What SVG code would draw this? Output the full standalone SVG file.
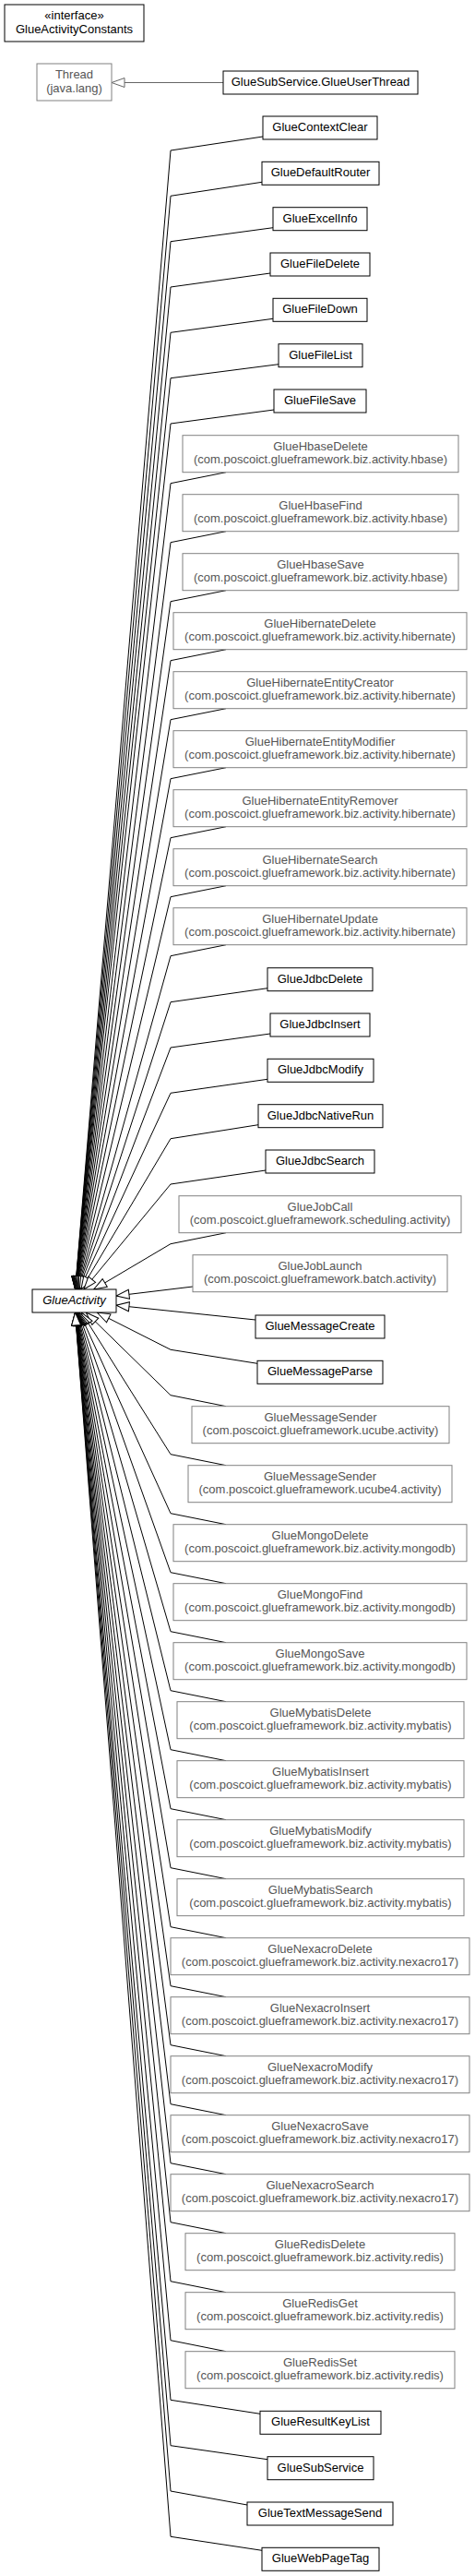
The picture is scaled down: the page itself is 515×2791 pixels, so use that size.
<svg xmlns="http://www.w3.org/2000/svg" width="515" height="2791" viewBox="0 0 515 2791">
<style>
text{font-family:"Liberation Sans",Arial,sans-serif;font-size:13px;text-anchor:middle}
.b rect{fill:#fff;stroke:#000;stroke-width:1}
.b text{fill:#000}
.g rect{fill:#fff;stroke:#808080;stroke-width:1}
.g text{fill:#555}
.e polyline{fill:none;stroke:#000;stroke-width:1;marker-end:url(#tri)}
</style>
<defs>
<marker id="tri" viewBox="0 0 14 10" refX="14" refY="5" markerWidth="14" markerHeight="10" markerUnits="userSpaceOnUse" orient="auto" overflow="visible"><path d="M0,0 L14,5 L0,10 Z" fill="#fff" stroke="#000" stroke-width="1"/></marker>
<marker id="trig" viewBox="0 0 14 10" refX="14" refY="5" markerWidth="14" markerHeight="10" markerUnits="userSpaceOnUse" orient="auto" overflow="visible"><path d="M0,0 L14,5 L0,10 Z" fill="#fff" stroke="#666" stroke-width="1"/></marker>
</defs>
<rect width="515" height="2791" fill="#fff"/>
<g id="edges" class="e">
<polyline points="242,89.5 121,89.5" style="stroke:#666;marker-end:url(#trig)"/>
<polyline points="285,148 185,163 81.55,1397"/>
<polyline points="284,197.3 185,212.3 81.59,1397"/>
<polyline points="296,246.7 185,261.7 81.64,1397"/>
<polyline points="293,296 185,311 81.69,1397"/>
<polyline points="296,345.3 185,360.3 81.75,1397"/>
<polyline points="302,394.7 185,409.7 81.81,1397"/>
<polyline points="297,444 185,459 81.87,1397"/>
<polyline points="245,511.7 185,523.7 81.97,1397"/>
<polyline points="245,575.7 185,587.7 82.09,1397"/>
<polyline points="245,639.7 185,651.7 82.22,1397"/>
<polyline points="245,703.7 185,715.7 82.38,1397"/>
<polyline points="245,767.7 185,779.7 82.57,1397"/>
<polyline points="245,831.7 185,843.7 82.81,1397"/>
<polyline points="245,895.7 185,907.7 83.10,1397"/>
<polyline points="245,959.7 185,971.7 83.48,1397"/>
<polyline points="245,1023.7 185,1035.7 83.99,1397"/>
<polyline points="290,1070.7 185,1085.7 84.53,1397"/>
<polyline points="293,1120 185,1135 85.26,1397"/>
<polyline points="290,1169.3 185,1184.3 86.30,1397"/>
<polyline points="280,1218.7 185,1233.7 87.93,1397"/>
<polyline points="288,1268 185,1283 90.83,1397"/>
<polyline points="245,1335.7 185,1347.7 101.64,1397"/>
<polyline points="209,1394 126,1404"/>
<polyline points="277,1430 126,1414.25"/>
<polyline points="279,1477.3 185,1462.3 105.24,1422"/>
<polyline points="245,1523.7 185,1511.7 93.28,1422"/>
<polyline points="245,1587.7 185,1575.7 88.36,1422"/>
<polyline points="245,1651.7 185,1639.7 86.17,1422"/>
<polyline points="245,1715.7 185,1703.7 84.94,1422"/>
<polyline points="245,1779.7 185,1767.7 84.15,1422"/>
<polyline points="245,1843.7 185,1831.7 83.59,1422"/>
<polyline points="245,1907.7 185,1895.7 83.19,1422"/>
<polyline points="245,1971.7 185,1959.7 82.87,1422"/>
<polyline points="245,2035.7 185,2023.7 82.63,1422"/>
<polyline points="245,2099.7 185,2087.7 82.43,1422"/>
<polyline points="245,2163.7 185,2151.7 82.26,1422"/>
<polyline points="245,2227.7 185,2215.7 82.12,1422"/>
<polyline points="245,2291.7 185,2279.7 82.00,1422"/>
<polyline points="245,2355.7 185,2343.7 81.90,1422"/>
<polyline points="245,2419.7 185,2407.7 81.81,1422"/>
<polyline points="245,2483.7 185,2471.7 81.73,1422"/>
<polyline points="245,2547.7 185,2535.7 81.66,1422"/>
<polyline points="282,2615.3 185,2600.3 81.60,1422"/>
<polyline points="290,2664.7 185,2649.7 81.55,1422"/>
<polyline points="268,2714 185,2699 81.51,1422"/>
<polyline points="284,2763.3 185,2748.3 81.48,1422"/>
</g>
<g id="GlueActivityConstants" class="b"><rect x="5" y="5" width="151" height="40"/><text x="80.5" y="20.5">«interface»</text><text x="80.5" y="35.5">GlueActivityConstants</text></g>
<g id="Thread" class="g"><rect x="40" y="69" width="81" height="40"/><text x="80.5" y="85">Thread</text><text x="80.5" y="100">(java.lang)</text></g>
<g id="GlueUserThread" class="b"><rect x="242" y="77" width="211" height="25"/><text x="347.5" y="93">GlueSubService.GlueUserThread</text></g>
<g id="GlueActivity" class="b"><rect x="35" y="1397" width="91" height="25"/><text x="80.5" y="1413" font-style="italic">GlueActivity</text></g>
<g id="GlueContextClear" class="b"><rect x="285" y="126" width="124" height="25"/><text x="347" y="142">GlueContextClear</text></g>
<g id="GlueDefaultRouter" class="b"><rect x="284" y="175.3" width="127" height="25"/><text x="347.5" y="191.3">GlueDefaultRouter</text></g>
<g id="GlueExcelInfo" class="b"><rect x="296" y="224.7" width="102" height="25"/><text x="347" y="240.7">GlueExcelInfo</text></g>
<g id="GlueFileDelete" class="b"><rect x="293" y="274" width="108" height="25"/><text x="347" y="290">GlueFileDelete</text></g>
<g id="GlueFileDown" class="b"><rect x="296" y="323.3" width="102" height="25"/><text x="347" y="339.3">GlueFileDown</text></g>
<g id="GlueFileList" class="b"><rect x="302" y="372.7" width="91" height="25"/><text x="347.5" y="388.7">GlueFileList</text></g>
<g id="GlueFileSave" class="b"><rect x="297" y="422" width="100" height="25"/><text x="347" y="438">GlueFileSave</text></g>
<g id="GlueHbaseDelete" class="g"><rect x="198" y="471.7" width="299" height="40"/><text x="347.5" y="487.7">GlueHbaseDelete</text><text x="347.5" y="502.2">(com.poscoict.glueframework.biz.activity.hbase)</text></g>
<g id="GlueHbaseFind" class="g"><rect x="198" y="535.7" width="299" height="40"/><text x="347.5" y="551.7">GlueHbaseFind</text><text x="347.5" y="566.2">(com.poscoict.glueframework.biz.activity.hbase)</text></g>
<g id="GlueHbaseSave" class="g"><rect x="198" y="599.7" width="299" height="40"/><text x="347.5" y="615.7">GlueHbaseSave</text><text x="347.5" y="630.2">(com.poscoict.glueframework.biz.activity.hbase)</text></g>
<g id="GlueHibernateDelete" class="g"><rect x="188" y="663.7" width="318" height="40"/><text x="347" y="679.7">GlueHibernateDelete</text><text x="347" y="694.2">(com.poscoict.glueframework.biz.activity.hibernate)</text></g>
<g id="GlueHibernateEntityCreator" class="g"><rect x="188" y="727.7" width="318" height="40"/><text x="347" y="743.7">GlueHibernateEntityCreator</text><text x="347" y="758.2">(com.poscoict.glueframework.biz.activity.hibernate)</text></g>
<g id="GlueHibernateEntityModifier" class="g"><rect x="188" y="791.7" width="318" height="40"/><text x="347" y="807.7">GlueHibernateEntityModifier</text><text x="347" y="822.2">(com.poscoict.glueframework.biz.activity.hibernate)</text></g>
<g id="GlueHibernateEntityRemover" class="g"><rect x="188" y="855.7" width="318" height="40"/><text x="347" y="871.7">GlueHibernateEntityRemover</text><text x="347" y="886.2">(com.poscoict.glueframework.biz.activity.hibernate)</text></g>
<g id="GlueHibernateSearch" class="g"><rect x="188" y="919.7" width="318" height="40"/><text x="347" y="935.7">GlueHibernateSearch</text><text x="347" y="950.2">(com.poscoict.glueframework.biz.activity.hibernate)</text></g>
<g id="GlueHibernateUpdate" class="g"><rect x="188" y="983.7" width="318" height="40"/><text x="347" y="999.7">GlueHibernateUpdate</text><text x="347" y="1014.2">(com.poscoict.glueframework.biz.activity.hibernate)</text></g>
<g id="GlueJdbcDelete" class="b"><rect x="290" y="1048.7" width="114" height="25"/><text x="347" y="1064.7">GlueJdbcDelete</text></g>
<g id="GlueJdbcInsert" class="b"><rect x="293" y="1098" width="108" height="25"/><text x="347" y="1114">GlueJdbcInsert</text></g>
<g id="GlueJdbcModify" class="b"><rect x="290" y="1147.3" width="115" height="25"/><text x="347.5" y="1163.3">GlueJdbcModify</text></g>
<g id="GlueJdbcNativeRun" class="b"><rect x="280" y="1196.7" width="135" height="25"/><text x="347.5" y="1212.7">GlueJdbcNativeRun</text></g>
<g id="GlueJdbcSearch" class="b"><rect x="288" y="1246" width="118" height="25"/><text x="347" y="1262">GlueJdbcSearch</text></g>
<g id="GlueJobCall" class="g"><rect x="194" y="1295.7" width="306" height="40"/><text x="347" y="1311.7">GlueJobCall</text><text x="347" y="1326.2">(com.poscoict.glueframework.scheduling.activity)</text></g>
<g id="GlueJobLaunch" class="g"><rect x="209" y="1359.7" width="276" height="40"/><text x="347" y="1375.7">GlueJobLaunch</text><text x="347" y="1390.2">(com.poscoict.glueframework.batch.activity)</text></g>
<g id="GlueMessageCreate" class="b"><rect x="277" y="1425" width="140" height="25"/><text x="347" y="1441">GlueMessageCreate</text></g>
<g id="GlueMessageParse" class="b"><rect x="279" y="1474.3" width="136" height="25"/><text x="347" y="1490.3">GlueMessageParse</text></g>
<g id="GlueMessageSender_ucube" class="g"><rect x="208" y="1523.7" width="279" height="40"/><text x="347.5" y="1539.7">GlueMessageSender</text><text x="347.5" y="1554.2">(com.poscoict.glueframework.ucube.activity)</text></g>
<g id="GlueMessageSender_ucube4" class="g"><rect x="204" y="1587.7" width="286" height="40"/><text x="347" y="1603.7">GlueMessageSender</text><text x="347" y="1618.2">(com.poscoict.glueframework.ucube4.activity)</text></g>
<g id="GlueMongoDelete" class="g"><rect x="188" y="1651.7" width="318" height="40"/><text x="347" y="1667.7">GlueMongoDelete</text><text x="347" y="1682.2">(com.poscoict.glueframework.biz.activity.mongodb)</text></g>
<g id="GlueMongoFind" class="g"><rect x="188" y="1715.7" width="318" height="40"/><text x="347" y="1731.7">GlueMongoFind</text><text x="347" y="1746.2">(com.poscoict.glueframework.biz.activity.mongodb)</text></g>
<g id="GlueMongoSave" class="g"><rect x="188" y="1779.7" width="318" height="40"/><text x="347" y="1795.7">GlueMongoSave</text><text x="347" y="1810.2">(com.poscoict.glueframework.biz.activity.mongodb)</text></g>
<g id="GlueMybatisDelete" class="g"><rect x="192" y="1843.7" width="311" height="40"/><text x="347.5" y="1859.7">GlueMybatisDelete</text><text x="347.5" y="1874.2">(com.poscoict.glueframework.biz.activity.mybatis)</text></g>
<g id="GlueMybatisInsert" class="g"><rect x="192" y="1907.7" width="311" height="40"/><text x="347.5" y="1923.7">GlueMybatisInsert</text><text x="347.5" y="1938.2">(com.poscoict.glueframework.biz.activity.mybatis)</text></g>
<g id="GlueMybatisModify" class="g"><rect x="192" y="1971.7" width="311" height="40"/><text x="347.5" y="1987.7">GlueMybatisModify</text><text x="347.5" y="2002.2">(com.poscoict.glueframework.biz.activity.mybatis)</text></g>
<g id="GlueMybatisSearch" class="g"><rect x="192" y="2035.7" width="311" height="40"/><text x="347.5" y="2051.7">GlueMybatisSearch</text><text x="347.5" y="2066.2">(com.poscoict.glueframework.biz.activity.mybatis)</text></g>
<g id="GlueNexacroDelete" class="g"><rect x="185" y="2099.7" width="324" height="40"/><text x="347" y="2115.7">GlueNexacroDelete</text><text x="347" y="2130.2">(com.poscoict.glueframework.biz.activity.nexacro17)</text></g>
<g id="GlueNexacroInsert" class="g"><rect x="185" y="2163.7" width="324" height="40"/><text x="347" y="2179.7">GlueNexacroInsert</text><text x="347" y="2194.2">(com.poscoict.glueframework.biz.activity.nexacro17)</text></g>
<g id="GlueNexacroModify" class="g"><rect x="185" y="2227.7" width="324" height="40"/><text x="347" y="2243.7">GlueNexacroModify</text><text x="347" y="2258.2">(com.poscoict.glueframework.biz.activity.nexacro17)</text></g>
<g id="GlueNexacroSave" class="g"><rect x="185" y="2291.7" width="324" height="40"/><text x="347" y="2307.7">GlueNexacroSave</text><text x="347" y="2322.2">(com.poscoict.glueframework.biz.activity.nexacro17)</text></g>
<g id="GlueNexacroSearch" class="g"><rect x="185" y="2355.7" width="324" height="40"/><text x="347" y="2371.7">GlueNexacroSearch</text><text x="347" y="2386.2">(com.poscoict.glueframework.biz.activity.nexacro17)</text></g>
<g id="GlueRedisDelete" class="g"><rect x="201" y="2419.7" width="292" height="40"/><text x="347" y="2435.7">GlueRedisDelete</text><text x="347" y="2450.2">(com.poscoict.glueframework.biz.activity.redis)</text></g>
<g id="GlueRedisGet" class="g"><rect x="201" y="2483.7" width="292" height="40"/><text x="347" y="2499.7">GlueRedisGet</text><text x="347" y="2514.2">(com.poscoict.glueframework.biz.activity.redis)</text></g>
<g id="GlueRedisSet" class="g"><rect x="201" y="2547.7" width="292" height="40"/><text x="347" y="2563.7">GlueRedisSet</text><text x="347" y="2578.2">(com.poscoict.glueframework.biz.activity.redis)</text></g>
<g id="GlueResultKeyList" class="b"><rect x="282" y="2612.3" width="131" height="25"/><text x="347.5" y="2628.3">GlueResultKeyList</text></g>
<g id="GlueSubService" class="b"><rect x="290" y="2661.7" width="115" height="25"/><text x="347.5" y="2677.7">GlueSubService</text></g>
<g id="GlueTextMessageSend" class="b"><rect x="268" y="2711" width="158" height="25"/><text x="347" y="2727">GlueTextMessageSend</text></g>
<g id="GlueWebPageTag" class="b"><rect x="284" y="2760.3" width="127" height="25"/><text x="347.5" y="2776.3">GlueWebPageTag</text></g>
</svg>
